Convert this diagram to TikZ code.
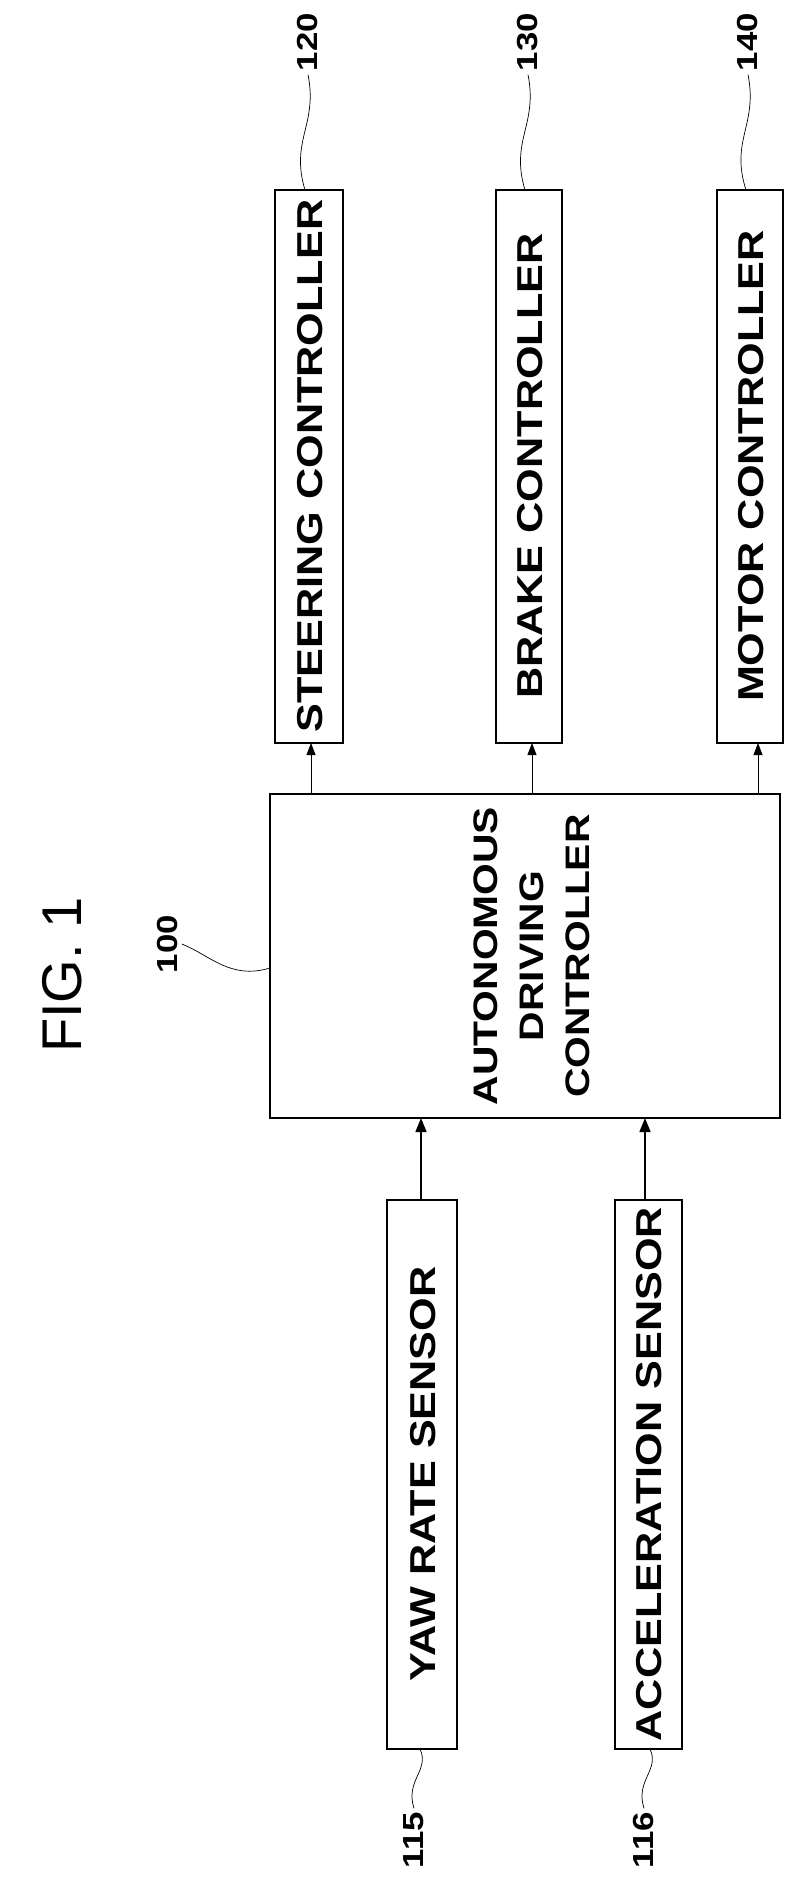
\documentclass[tikz,border=0pt]{standalone}
\usepackage{fontspec}
\setmainfont{Liberation Sans}
\newfontfamily\widesf[FakeStretch=1.2]{Liberation Sans}
\usetikzlibrary{arrows.meta}
\begin{document}
\begin{tikzpicture}[x=1pt,y=-1pt,
  txt/.style={rotate=90,font=\widesf\bfseries\fontsize{36}{46}\selectfont},
  num/.style={rotate=90,font=\widesf\bfseries\fontsize{29}{34}\selectfont},
  arr/.style={line width=0.8pt,-{Triangle[length=12pt,width=9pt]}},
  lead/.style={line width=0.7pt}]
\useasboundingbox (0,0) rectangle (804,1890);
% boxes
\draw[line width=2.4pt] (275,190) rectangle (343,743);
\draw[line width=2.4pt] (496,190) rectangle (562,743);
\draw[line width=2.4pt] (717,190) rectangle (783,743);
\draw[line width=2.4pt] (270,794) rectangle (780,1118);
\draw[line width=2.4pt] (387,1200) rectangle (457,1749);
\draw[line width=2.4pt] (615,1200) rectangle (682,1749);
\node[txt] (st) at (310,466) {STEERING CONTROLLER};
\node[txt] (br) at (530,466) {BRAKE CONTROLLER};
\node[txt] (mo) at (751,466) {MOTOR CONTROLLER};
\node[txt,align=center,font=\widesf\bfseries\fontsize{34}{46}\selectfont] (adc) at (532,956) {AUTONOMOUS\\DRIVING\\CONTROLLER};
\node[txt] (yaw) at (423,1474) {YAW RATE SENSOR};
\node[txt] (acc) at (649,1474) {ACCELERATION SENSOR};
\coordinate (adcS) at (311,794); \coordinate (stB) at (311,743);
\coordinate (adcB) at (532,794); \coordinate (brB) at (532,743);
\coordinate (adcM) at (758,794); \coordinate (moB) at (758,743);
\draw[arr] (adcS) -- (stB);
\draw[arr] (adcB) -- (brB);
\draw[arr] (adcM) -- (moB);
\coordinate (yT) at (421,1200); \coordinate (yA) at (421,1118);
\coordinate (aT) at (645,1200); \coordinate (aA) at (645,1118);
\draw[line width=1.5pt,-{Triangle[length=14pt,width=11pt]}] (yT) -- (yA);
\draw[line width=1.5pt,-{Triangle[length=14pt,width=11pt]}] (aT) -- (aA);
% labels
\node[num] (n120) at (308,42) {120};
\node[num] (n130) at (528,42) {130};
\node[num] (n140) at (748,42) {140};
\node[num] (n100) at (168,944) {100};
\node[num] (n115) at (414,1840) {115};
\node[num] (n116) at (644,1840) {116};
\node[rotate=90,font=\fontsize{56}{60}\selectfont] (fig) at (62,975) {FIG. 1};
\draw[lead] (n120.west) .. controls (318,125) and (290,140) .. (305,190);
\draw[lead] (n130.west) .. controls (538,125) and (510,140) .. (525,190);
\draw[lead] (n140.west) .. controls (758,125) and (730,140) .. (746,190);
\draw[lead] (n100.south) .. controls (210,955) and (230,980) .. (270,968);
\draw[lead] (n115.east) .. controls (405,1780) and (430,1770) .. (420,1749);
\draw[lead] (n116.east) .. controls (635,1780) and (660,1770) .. (650,1749);
\end{tikzpicture}
\end{document}
